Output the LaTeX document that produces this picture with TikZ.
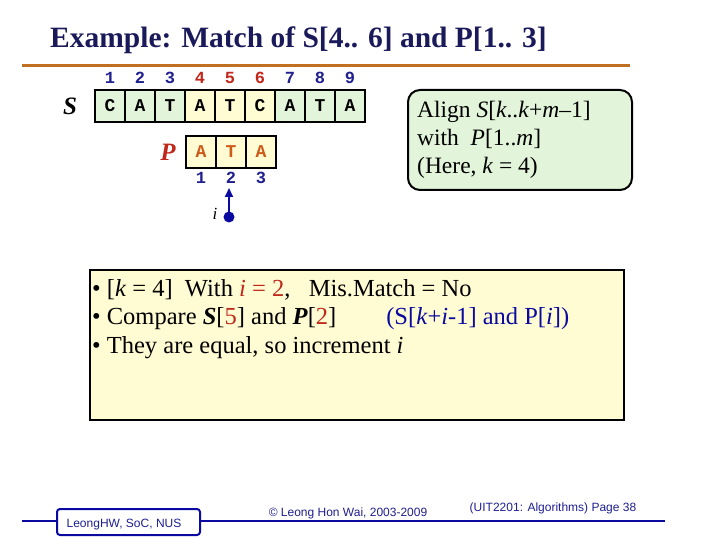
\documentclass[tikz,border=0pt]{standalone}
\usepackage{fontspec}
\setmainfont{Liberation Serif}
\newfontfamily\monof{Liberation Mono}
\newfontfamily\sansf{Liberation Sans}
\usetikzlibrary{arrows.meta}
\definecolor{cgreen}{HTML}{E2F5DA}
\definecolor{cyel}{HTML}{FFFBD2}
\definecolor{cnavy}{HTML}{1F1F8F}
\definecolor{ctitle}{HTML}{1A1A5A}
\definecolor{cred}{HTML}{C0281C}
\definecolor{corange}{HTML}{C07020}
\definecolor{cpblue}{HTML}{0A0AA0}
\begin{document}
\begin{tikzpicture}[x=1pt,y=-1pt,
  cell/.style={draw,line width=1.2pt,minimum width=30pt,minimum height=32pt,inner sep=0pt,font=\monof\bfseries\fontsize{18}{18}\selectfont},
  idx/.style={font=\monof\bfseries\fontsize{17}{17}\selectfont,text=cnavy},
  body/.style={font=\fontsize{24.5}{28.5}\selectfont}]
\useasboundingbox (0,0) rectangle (720,540);
\node[anchor=base west,font=\bfseries\fontsize{29.5}{30}\selectfont,text=ctitle,inner sep=0pt] (title) at (50,48) {Example: Match of S[4.. 6] and P[1.. 3]};
\draw[corange,line width=3pt] (22,66) -- (630,66);
\node[font=\bfseries\itshape\fontsize{25}{25}\selectfont] (S) at (70,106) {S};
\foreach \c [count=\k] in {C,A,T,A,T,C,A,T,A}{
  \pgfmathsetmacro\xx{95+30*\k-15}
  \ifnum\k>3 \ifnum\k<7 \def\fc{cyel}\def\ic{cred}\else\def\fc{cgreen}\def\ic{cnavy}\fi\else\def\fc{cgreen}\def\ic{cnavy}\fi
  \node[cell,fill=\fc] (s\k) at (\xx,106) {\c};
  \node[idx,text=\ic] (n\k) at (\xx,78) {\k};
}
\node[font=\bfseries\itshape\fontsize{25}{25}\selectfont,text=cred] (P) at (168,152) {P};
\foreach \c [count=\k] in {A,T,A}{
  \pgfmathsetmacro\xx{186+30*\k-15}
  \node[cell,fill=cyel,text=corange!80!red] (p\k) at (\xx,152) {\c};
  \node[idx] (m\k) at (\xx,178) {\k};
}
\coordinate (dot) at (229,217);
\coordinate (tip) at (229,188);
\fill[cpblue] (dot) circle (5.5pt);
\draw[cpblue,line width=2pt,-{Triangle[length=9pt,width=8pt]}] (dot) -- (tip);
\node[font=\itshape\fontsize{17}{17}\selectfont] (ilab) at (215,214) {i};
\draw[line width=2pt,fill=cgreen,rounded corners=12pt] (408,90) rectangle (632,190);
\node[anchor=north west,align=left,font=\fontsize{23.5}{28}\selectfont,inner sep=0pt] (al) at (417,101) {Align \textit{S}[\textit{k}..\textit{k}+\textit{m}--1]\\with\ \ \textit{P}[1..\textit{m}]\\(Here, \textit{k} = 4)};
\draw[line width=2pt,fill=cyel] (90,270) rectangle (624,420);
\node[anchor=north west,align=left,body,inner sep=0pt] (bl) at (92,279) {• [\textit{k} = 4]\ \ With \textcolor{cred}{\textit{i} = 2},\ \ \ Mis.Match = No\\
• Compare \textbf{\textit{S}}[\textcolor{cred}{5}] and \textbf{\textit{P}}[\textcolor{cred}{2}]\hspace{50pt}\textcolor{cpblue}{(S[\textit{k}+\textit{i}-1] and P[\textit{i}])}\\
• They are equal, so increment \textit{i}};
\draw[cpblue,line width=2pt] (22,521) -- (665,521);
\node[draw=cpblue,line width=2pt,fill=white,rounded corners=3pt,minimum width=143pt,minimum height=26pt] (f1) at (128.5,522) {};
\node[font=\sansf\fontsize{12}{12}\selectfont,text=cnavy] (f1t) at (124,525) {LeongHW, SoC, NUS};
\node[font=\sansf\fontsize{12}{12}\selectfont,text=cnavy] (f2) at (348,513) {© Leong Hon Wai, 2003-2009};
\node[font=\sansf\fontsize{12}{12}\selectfont,text=cnavy] (f3) at (553,508) {(UIT2201: Algorithms) Page 38};
\end{tikzpicture}
\end{document}
